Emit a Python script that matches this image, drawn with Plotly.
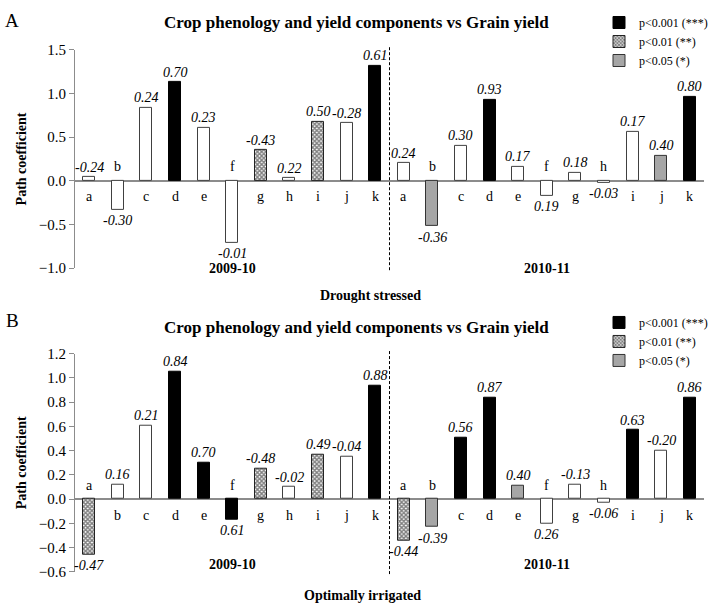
import plotly.graph_objects as go

letters = ['a', 'b', 'c', 'd', 'e', 'f', 'g', 'h', 'i', 'j', 'k']
seasons = ['2009-10', '2010-11']

# Drought stressed: bar height, printed coefficient and significance
drought_bars = [0.04, -0.33, 0.84, 1.13, 0.61, -0.71, 0.35, 0.03, 0.68, 0.66, 1.32,
                0.20, -0.52, 0.40, 0.93, 0.16, -0.17, 0.09, -0.02, 0.56, 0.29, 0.96]
drought_labels = ['-0.24', '-0.30', '0.24', '0.70', '0.23', '-0.01', '-0.43', '0.22', '0.50', '-0.28', '0.61',
                  '0.24', '-0.36', '0.30', '0.93', '0.17', '0.19', '0.18', '-0.03', '0.17', '0.40', '0.80']
drought_sig = ['ns', 'ns', 'ns', '***', 'ns', 'ns', '**', 'ns', '**', 'ns', '***',
               'ns', '*', 'ns', '***', 'ns', 'ns', 'ns', 'ns', 'ns', '*', '***']

# Optimally irrigated
irrig_bars = [-0.46, 0.12, 0.61, 1.05, 0.30, -0.17, 0.25, 0.10, 0.37, 0.35, 0.94,
              -0.34, -0.23, 0.51, 0.84, 0.11, -0.20, 0.12, -0.03, 0.57, 0.40, 0.84]
irrig_labels = ['-0.47', '0.16', '0.21', '0.84', '0.70', '0.61', '-0.48', '-0.02', '0.49', '-0.04', '0.88',
                '-0.44', '-0.39', '0.56', '0.87', '0.40', '0.26', '-0.13', '-0.06', '0.63', '-0.20', '0.86']
irrig_sig = ['**', 'ns', 'ns', '***', '***', '***', '**', 'ns', '**', 'ns', '***',
             '**', '*', '***', '***', '*', 'ns', 'ns', 'ns', '***', 'ns', '***']

sig_names = {'***': 'p<0.001 (***)', '**': 'p<0.01 (**)', '*': 'p<0.05 (*)', 'ns': 'ns'}

SERIF = 'Liberation Serif, Times New Roman, serif'
W, H = 714, 613


def bar_marker(sig):
    if sig == '***':
        return dict(color='black', line=dict(color='black', width=1))
    if sig == '**':
        return dict(color='white', line=dict(color='#222222', width=1),
                    pattern=dict(shape='x', fgcolor='black', bgcolor='white', size=3, solidity=0.7))
    if sig == '*':
        return dict(color='#a6a6a6', line=dict(color='#333333', width=1))
    return dict(color='white', line=dict(color='#404040', width=1))


def add_panel(fig, bars, labels, sig, xa, ya, legend, year_shift):
    x = list(range(len(bars)))
    for s in ['***', '**', '*', 'ns']:
        idx = [i for i in x if sig[i] == s]
        fig.add_trace(go.Bar(
            x=[x[i] for i in idx], y=[bars[i] for i in idx],
            width=0.42, marker=bar_marker(s), name=sig_names[s],
            showlegend=(s != 'ns'), legend=legend,
            xaxis=xa, yaxis=ya,
        ))
    ann = []
    for i, v in enumerate(bars):
        # printed value at the bar end
        ann.append(dict(x=i, y=v, xref=xa, yref=ya, text=labels[i], showarrow=False,
                        yshift=10 if v >= 0 else -11,
                        font=dict(family=SERIF, size=14, style='italic', color='black')))
        # letter on the other side of the baseline
        ann.append(dict(x=i, y=0, xref=xa, yref=ya, text=letters[i % len(letters)], showarrow=False,
                        yshift=-16 if v >= 0 else 14,
                        font=dict(family=SERIF, size=14, color='black')))
    n = len(letters)
    for k, s in enumerate(seasons):
        ann.append(dict(x=k * n + (n - 1) / 2, y=0, xref=xa, yref=ya + ' domain', text='<b>' + s + '</b>',
                        showarrow=False, yanchor='middle', yshift=year_shift,
                        font=dict(family=SERIF, size=14, color='black')))
    fig.add_shape(type='line', x0=n - 0.5, x1=n - 0.5, y0=-0.01, y1=1.02, xref=xa, yref=ya + ' domain',
                  line=dict(color='black', width=1, dash='3px,2px'))
    return ann


fig = go.Figure()
ann = add_panel(fig, drought_bars, drought_labels, drought_sig, 'x', 'y', 'legend', 0)
ann += add_panel(fig, irrig_bars, irrig_labels, irrig_sig, 'x2', 'y2', 'legend2', 7)


def px(x):
    return x / W


def py(y):
    return 1 - y / H


title = '<b>Crop phenology and yield components vs Grain yield</b>'
for lab, yt, yc in [('A', 13, 15), ('B', 321, 328)]:
    ann.append(dict(x=px(12), y=py(yt), xref='paper', yref='paper', text=lab, showarrow=False,
                    xanchor='center', yanchor='middle',
                    font=dict(family=SERIF, size=19, color='black')))
    ann.append(dict(x=px(356), y=py(yc), xref='paper', yref='paper', text=title, showarrow=False,
                    xanchor='center', yanchor='middle',
                    font=dict(family=SERIF, size=17, color='black')))
ann.append(dict(x=px(370), y=py(295), xref='paper', yref='paper', text='<b>Drought stressed</b>',
                showarrow=False, xanchor='center', yanchor='middle',
                font=dict(family=SERIF, size=14, color='black')))
ann.append(dict(x=px(362), y=py(603), xref='paper', yref='paper', text='<b>Optimally irrigated</b>',
                showarrow=False, xanchor='center', yanchor='middle',
                font=dict(family=SERIF, size=14, color='black')))

n_all = len(drought_bars)
xax = dict(range=[-0.5, n_all - 0.5], domain=[px(75), px(704)], showticklabels=False,
           showgrid=False, zeroline=False, showline=False, ticks='')
yax = dict(showgrid=False, zeroline=True, zerolinecolor='#8c8c8c', zerolinewidth=1.5,
           showline=True, linecolor='#8c8c8c', linewidth=1, ticks='outside', ticklen=5,
           tickcolor='#8c8c8c', tickfont=dict(family=SERIF, size=15, color='black'),
           title=dict(text='<b>Path coefficient</b>', font=dict(family=SERIF, size=14, color='black'),
                      standoff=8))

legend_style = dict(xanchor='left', yanchor='top', bgcolor='rgba(0,0,0,0)',
                    font=dict(family=SERIF, size=12, color='black'), traceorder='normal')

fig.update_layout(
    width=W, height=H,
    margin=dict(l=0, r=0, t=0, b=0),
    paper_bgcolor='white', plot_bgcolor='white',
    barmode='overlay', bargap=0,
    xaxis=dict(xax, anchor='y'),
    yaxis=dict(yax, domain=[py(267), py(43)], range=[-1.0, 1.5], tickvals=[-1.0, -0.5, 0, 0.5, 1.0, 1.5],
               tickformat='.1f', anchor='x'),
    xaxis2=dict(xax, anchor='y2'),
    yaxis2=dict(yax, domain=[py(579), py(355)], range=[-0.6, 1.2], dtick=0.2, tickformat='.1f', anchor='x2'),
    legend=dict(legend_style, x=px(599), y=py(0)),
    legend2=dict(legend_style, x=px(599), y=py(308)),
    annotations=ann,
    showlegend=True,
)

# the page body has a default 8px margin; drop it so the figure sits at the window corner
fig.write_html('out.html', config={'displayModeBar': False},
               post_script="document.body.style.margin='0px';")
